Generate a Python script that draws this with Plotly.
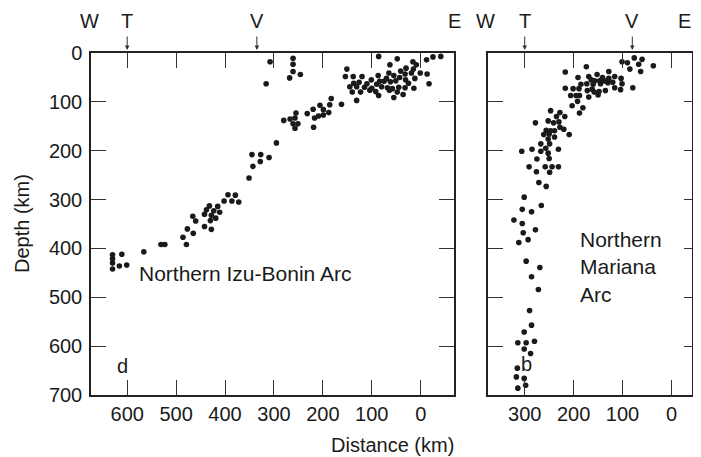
import plotly.graph_objects as go

# Northern Izu-Bonin Arc: distance from volcanic front reference (km), depth (km)
izu_dist = [86, 48, -12, -25, -41, 16, 63, 9, 30, 151, 15, 41, 19, 1, -13, 65, 55, 32,
            154, 138, 120, 87, 43, 12, 101, 84, 75, 62, 51, 31, 137, 126, 110, 90, 145,
            131, 115, 80, 68, 58, 45, 32, -17, 140, 123, 104, 92, 86, 64, 48, 14, 131,
            55, 162, 25, 70, 100, 36,
            183, 186, 206, 199, 220, 232, 217, 209, 199, 188, 219,
            308, 316, 261, 261, 261, 268, 246,
            280, 267, 255, 257, 261, 251, 257,
            295, 345, 327, 310, 343, 328, 351,
            394, 379, 402, 386, 372, 432, 415, 438, 423, 442, 428, 411, 419, 430,
            466, 460, 477, 442, 428, 465, 486, 479, 531, 523, 566,
            630, 630, 630, 630, 611, 616, 601]
izu_depth = [7, 12, 14, 8, 7, 18, 24, 24, 31, 33, 33, 37, 41, 41, 43, 41, 46, 43,
             48, 48, 48, 46, 50, 52, 55, 58, 58, 59, 57, 55, 62, 60, 63, 64, 69,
             69, 70, 69, 71, 73, 70, 71, 63, 80, 80, 76, 79, 87, 76, 80, 72, 97,
             91, 105, 62, 52, 72, 85,
             93, 106, 107, 116, 115, 124, 133, 129, 127, 122, 152,
             18, 63, 11, 23, 38, 51, 44,
             138, 135, 123, 133, 145, 145, 154,
             184, 208, 208, 214, 232, 222, 256,
             290, 291, 303, 303, 305, 313, 314, 321, 323, 330, 332, 326, 338, 343,
             334, 344, 360, 355, 361, 369, 377, 392, 392, 392, 407,
             413, 421, 430, 442, 412, 436, 434]

# Northern Mariana Arc
mar_dist = [174, 217, 101, 90, 128, 191, 169, 152, 141, 128, 116, 103, 164, 157, 147,
            137, 185, 173, 160, 145, 130, 120, 101, 217, 201, 189, 172, 162, 158, 148,
            135, 116, 104, 206, 195, 188, 169, 150, 192, 203, 181, 188, 247, 228, 235,
            218, 252, 241, 230, 278, 256, 247, 239, 228, 220, 261, 250, 239, 252, 209,
            267, 249, 285, 306, 267, 257, 252, 231, 275, 250, 291, 258, 244, 231, 276,
            249, 271, 256, 301,
            266, 305, 286, 322, 305, 278, 303, 293, 312, 297, 269, 286, 272, 290, 286,
            301, 314, 297, 280, 301, 288, 315, 317, 301, 298, 314,
            76, 60, 67, 85, 63, 37, 79]
mar_depth = [28, 39, 18, 20, 38, 50, 48, 44, 50, 52, 48, 52, 55, 57, 57,
             57, 64, 63, 64, 63, 61, 60, 63, 72, 73, 73, 77, 74, 80, 79,
             77, 71, 75, 87, 87, 87, 90, 86, 99, 108, 112, 123, 118, 122, 130,
             130, 139, 143, 141, 143, 158, 159, 159, 152, 156, 167, 166, 172, 176, 167,
             186, 186, 197, 201, 201, 195, 205, 197, 217, 216, 233, 233, 233, 233, 243,
             244, 265, 273, 295,
             312, 320, 325, 342, 349, 362, 368, 382, 388, 426, 439, 458, 484, 527, 557,
             571, 593, 593, 590, 606, 615, 645, 663, 666, 680, 686,
             10, 13, 23, 33, 38, 26, 71]

dist_ticks_left = [600, 500, 400, 300, 200, 100, 0]
dist_ticks_right = [300, 200, 100, 0]
depth_ticks = [0, 100, 200, 300, 400, 500, 600, 700]

# trench (T) and volcanic front (V) positions on each section
izu_trench, izu_volcano = 600, 335
mar_trench, mar_volcano = 300, 80

FONT = "Liberation Sans, Arial, Helvetica, sans-serif"
INK = "#1a1a1a"
OFF = 8                      # page body margin around the plot div
W, H = 701 - 2 * OFF, 457 - OFF


def px(x):
    return (x - OFF) / W


def py(y):
    return (H - (y - OFF)) / H


fig = go.Figure()
fig.add_trace(go.Scatter(x=izu_dist, y=izu_depth, mode="markers", xaxis="x", yaxis="y",
                         marker=dict(size=5.6, color=INK), hoverinfo="skip"))
fig.add_trace(go.Scatter(x=mar_dist, y=mar_depth, mode="markers", xaxis="x2", yaxis="y2",
                         marker=dict(size=5.6, color=INK), hoverinfo="skip"))
# dummy trace so the short right-hand ticks of the Mariana panel get drawn
fig.add_trace(go.Scatter(x=[None], y=[None], xaxis="x2", yaxis="y3", hoverinfo="skip"))

ydom = [py(395), py(53)]
axis_common = dict(showgrid=False, zeroline=False, showline=True, linecolor="#222",
                   linewidth=1.5, ticks="inside", ticklen=15, tickwidth=1.3,
                   tickcolor="#333", automargin=False,
                   tickfont=dict(family=FONT, size=20, color=INK))

fig.update_layout(
    template="none",
    width=W, height=H,
    margin=dict(l=0, r=0, t=0, b=0, pad=0),
    paper_bgcolor="white", plot_bgcolor="white",
    showlegend=False,
    font=dict(family=FONT, size=20, color=INK),
    xaxis=dict(axis_common, domain=[px(91), px(454)], range=[674, -68],
               tickvals=dist_ticks_left, mirror="ticks", anchor="y",
               ticklabelstandoff=0),
    yaxis=dict(axis_common, domain=ydom, range=[700, 0], tickvals=depth_ticks,
               mirror="ticks", anchor="x", ticklabelstandoff=3),
    xaxis2=dict(axis_common, domain=[px(488), px(691.5)], range=[375, -41],
                tickvals=dist_ticks_right, mirror="ticks", anchor="y2",
                ticklabelstandoff=0),
    yaxis2=dict(axis_common, domain=ydom, range=[700, 0], tickvals=depth_ticks,
                mirror=True, anchor="x2", showticklabels=False),
    yaxis3=dict(axis_common, range=[700, 0], tickvals=depth_ticks, overlaying="y2",
                side="right", anchor="x2", showline=False, ticklen=8,
                showticklabels=False),
)

ytop = py(21)
tip = py(50)
notes = [
    dict(text="W", x=px(89), y=ytop, xref="paper", yref="paper"),
    dict(text="T", x=izu_trench, y=ytop, xref="x", yref="paper"),
    dict(text="V", x=izu_volcano, y=ytop, xref="x", yref="paper"),
    dict(text="E", x=px(454), y=ytop, xref="paper", yref="paper"),
    dict(text="W", x=px(485), y=ytop, xref="paper", yref="paper"),
    dict(text="T", x=mar_trench, y=ytop, xref="x2", yref="paper"),
    dict(text="V", x=mar_volcano, y=ytop, xref="x2", yref="paper"),
    dict(text="E", x=1, y=ytop, xref="paper", yref="paper", xanchor="right"),
    dict(text="Depth (km)", x=px(22), y=py(224), xref="paper", yref="paper",
         textangle=-90),
    dict(text="Distance (km)", x=px(392), y=py(445), xref="paper", yref="paper"),
    dict(text="Northern Izu-Bonin Arc", x=580, y=451, xref="x", yref="y",
         xanchor="left", font=dict(size=21)),
    dict(text="d", x=609, y=640, xref="x", yref="y"),
    dict(text="b", x=297, y=637, xref="x2", yref="y2"),
    dict(text="Northern<br>Mariana<br>Arc", x=192, y=439, xref="x2", yref="y2",
         xanchor="left", align="left", font=dict(size=21)),
]
for n in notes:
    n.setdefault("font", dict(size=20))
    n.setdefault("xanchor", "center")
    n.setdefault("yanchor", "middle")
    n["font"] = dict(family=FONT, color=INK, **n["font"])
    fig.add_annotation(showarrow=False, **n)

# small arrows pointing down at trench and volcanic front
for xv, xr in [(izu_trench, "x"), (izu_volcano, "x"), (mar_trench, "x2"), (mar_volcano, "x2")]:
    fig.add_annotation(x=xv, y=tip, xref=xr, yref="paper", text="", showarrow=True,
                       ax=0, ay=-15, arrowhead=2, arrowsize=0.9, arrowwidth=1,
                       arrowcolor="#333")

fig.write_html("out.html")
